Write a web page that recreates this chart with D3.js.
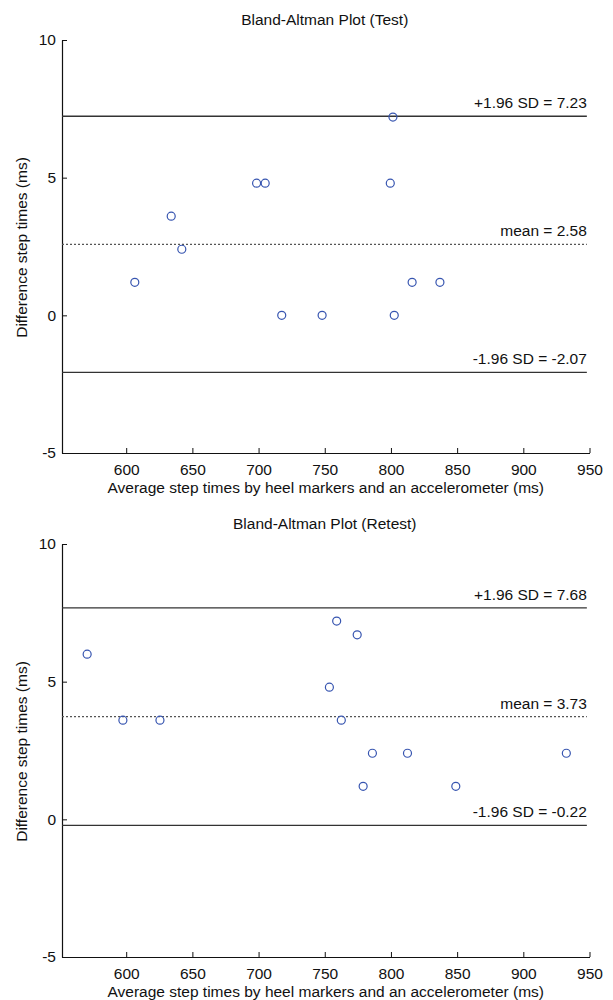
<html>
<head>
  <meta charset="utf-8" />
  <script src="https://cdnjs.cloudflare.com/ajax/libs/d3/7.8.5/d3.min.js"></script>
  <style>
    body { margin: 0; background: #fff; }
    svg { display: block; font-family: "Liberation Sans", Arial, sans-serif; }
    .tick > text { font-size: 15.5px; fill: #111; }
    .domain, .tick > line { stroke: #111; }
  </style>
</head>
<body>
  <svg width="613" height="1000"></svg>
  <script>
  // x ticks, y ticks shared by both panels
  const xTicks = [600, 650, 700, 750, 800, 850, 900, 950]
  const yTicks = [-5, 0, 5, 10]
  const xDomain = [551.5, 950]
  const yDomain = [-5, 10]

  // test session
  const testAvg  = [606.5, 634, 642, 698.5, 705, 717.5, 748, 799.5, 801.5, 802.5, 816, 837]
  const testDiff = [1.2, 3.6, 2.4, 4.8, 4.8, 0, 0, 4.8, 7.2, 0, 1.2, 1.2]
  const testStats = [7.23, 2.58, -2.07]   // upper, mean, lower

  // retest session
  const retestAvg  = [570.5, 597.5, 625.5, 753.5, 759, 762.5, 774.5, 779, 786, 812.5, 849, 932.5]
  const retestDiff = [6.0, 3.6, 3.6, 4.8, 7.2, 3.6, 6.7, 1.2, 2.4, 2.4, 1.2, 2.4]
  const retestStats = [7.68, 3.73, -0.22]

  const svg = d3.select("svg")
  const left = 62, right = 589.5

  function blandAltman(top, title, avg, diff, stats) {
    const bottom = top + 413
    const xScale = d3.scaleLinear().domain(xDomain).range([left, right])
    const yScale = d3.scaleLinear().domain(yDomain).range([bottom, top])
    const g = svg.append("g")

    const xAxis = d3.axisBottom(xScale).tickValues(xTicks)
                    .tickSizeInner(-5).tickSizeOuter(0).tickPadding(8)
    const yAxis = d3.axisLeft(yScale).tickValues(yTicks).tickFormat(d => String(d))
                    .tickSizeInner(-5).tickSizeOuter(0).tickPadding(6)

    g.append("g").attr("transform", `translate(0,${bottom})`).call(xAxis)
     .selectAll("text").attr("dy", "0.9em")
    g.append("g").attr("transform", `translate(${left},0)`).call(yAxis)
    g.selectAll(".domain").attr("stroke-width", 1.2)

    // limit lines
    const labels = ["+1.96 SD = " + stats[0].toFixed(2),
                    "mean = " + stats[1].toFixed(2),
                    "-1.96 SD = " + stats[2].toFixed(2)]
    stats.forEach((v, i) => {
      g.append("line")
        .attr("x1", xScale(xDomain[0])).attr("x2", xScale(948))
        .attr("y1", yScale(v)).attr("y2", yScale(v))
        .attr("stroke", i == 1 ? "#555" : "#333")
        .attr("stroke-width", 1.3)
        .attr("stroke-dasharray", i == 1 ? "2,2" : null)
      g.append("text")
        .attr("x", xScale(948)).attr("y", yScale(v) - 8)
        .attr("text-anchor", "end")
        .attr("font-size", "15.5px").attr("fill", "#111")
        .text(labels[i])
    })

    // points
    g.selectAll("circle")
      .data(avg.map((a, i) => [a, diff[i]]))
      .enter()
      .append("circle")
        .attr("r", 4)
        .attr("cx", d => xScale(d[0]))
        .attr("cy", d => yScale(d[1]))
        .attr("fill", "none")
        .attr("stroke", "#3755b0")
        .attr("stroke-width", 1.2)

    // titles
    g.append("text")
      .attr("x", (left + right) / 2 - 1).attr("y", top - 15)
      .attr("text-anchor", "middle").attr("font-size", "15.5px").attr("fill", "#111")
      .text(title)
    g.append("text")
      .attr("x", (left + right) / 2).attr("y", bottom + 40)
      .attr("text-anchor", "middle").attr("font-size", "15.5px").attr("fill", "#111")
      .text("Average step times by heel markers and an accelerometer (ms)")
    g.append("text")
      .attr("transform", `translate(27,${(top + bottom) / 2 + 1}) rotate(-90)`)
      .attr("text-anchor", "middle").attr("font-size", "15.5px").attr("fill", "#111")
      .text("Difference step times (ms)")
  }

  blandAltman(40, "Bland-Altman Plot (Test)", testAvg, testDiff, testStats)
  blandAltman(544, "Bland-Altman Plot (Retest)", retestAvg, retestDiff, retestStats)
  </script>
</body>
</html>
